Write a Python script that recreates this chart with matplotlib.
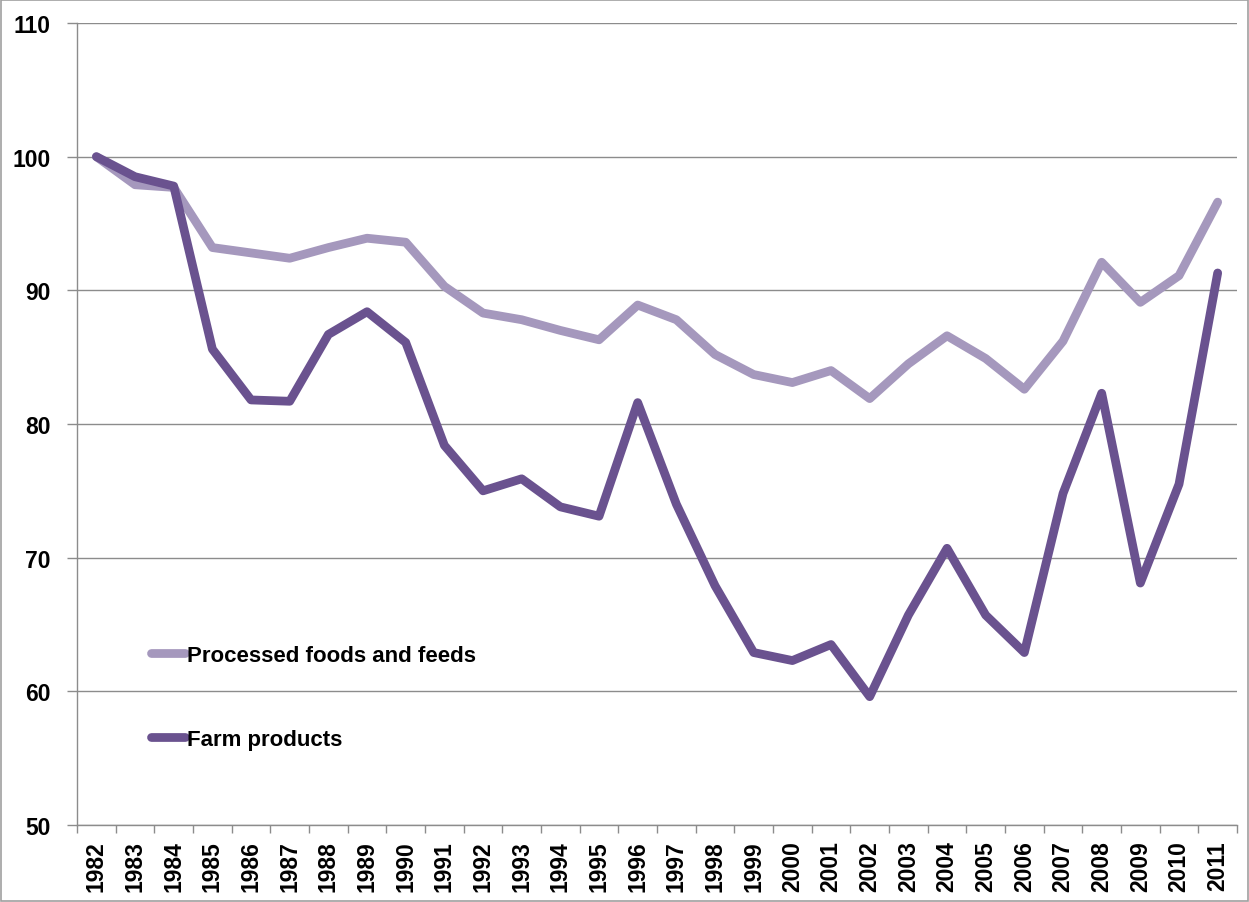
import matplotlib
matplotlib.use("Agg")
import matplotlib.pyplot as plt
from matplotlib.patches import Rectangle
from matplotlib.ticker import FixedLocator

plt.rcParams['font.family'] = ['Liberation Sans', 'DejaVu Sans']
plt.rcParams['font.weight'] = 'bold'

years = [str(y) for y in range(1982, 2012)]

processed = [100.0, 97.9, 97.7, 93.2, 92.8, 92.4, 93.2, 93.9, 93.6, 90.3,
             88.3, 87.8, 87.0, 86.3, 88.9, 87.8, 85.2, 83.7, 83.1, 84.0,
             81.9, 84.5, 86.6, 84.9, 82.6, 86.2, 92.1, 89.1, 91.1, 96.6]

farm = [100.0, 98.5, 97.8, 85.6, 81.8, 81.7, 86.7, 88.4, 86.1, 78.4,
        75.0, 75.9, 73.8, 73.1, 81.6, 74.0, 67.9, 62.9, 62.3, 63.5,
        59.6, 65.7, 70.7, 65.7, 62.9, 74.8, 82.3, 68.1, 75.5, 91.3]

light = '#A598BD'
dark = '#6A528F'
grey = '#8c8c8c'
fs = 16.5

fig = plt.figure(figsize=(12.49, 9.03), dpi=100)
ax = fig.add_axes([0.0617, 0.0853, 0.9287, 0.8881])

x = list(range(len(years)))
ax.plot(x, processed, color=light, lw=6.3, solid_capstyle='round',
        solid_joinstyle='round', label='Processed foods and feeds', zorder=3)
ax.plot(x, farm, color=dark, lw=6.3, solid_capstyle='round',
        solid_joinstyle='round', label='Farm products', zorder=4)

ax.set_xlim(-0.5, len(years) - 0.5)
ax.set_ylim(50, 110)
ax.set_yticks(range(50, 111, 10))
ax.yaxis.grid(True, color=grey, lw=1)
ax.set_axisbelow(True)

ax.set_xticks(x)
ax.set_xticklabels(years, rotation=90, fontsize=fs, fontweight='bold')
ax.xaxis.set_minor_locator(FixedLocator([i - 0.5 for i in range(len(years) + 1)]))
ax.tick_params(axis='x', which='major', length=0, pad=11)
ax.tick_params(axis='x', which='minor', length=6, color=grey, width=1)
ax.tick_params(axis='y', length=7, color=grey, width=1, labelsize=fs, pad=12)
for lbl in ax.get_yticklabels():
    lbl.set_fontweight('bold')

for side in ('top', 'right'):
    ax.spines[side].set_visible(False)
for side in ('left', 'bottom'):
    ax.spines[side].set_color(grey)
    ax.spines[side].set_linewidth(1)

leg = ax.legend(loc='center left', bbox_to_anchor=(0.064, 0.159), frameon=False,
                handlelength=1.5, handletextpad=0.1, labelspacing=2.85,
                borderpad=0, borderaxespad=0, prop={'size': 16, 'weight': 'bold'})

fig.patches.append(Rectangle((0.001, 0.001), 0.998, 0.998, transform=fig.transFigure,
                             fill=False, edgecolor='#a0a0a0', lw=1.2))

fig.savefig('out.png', dpi=100)
